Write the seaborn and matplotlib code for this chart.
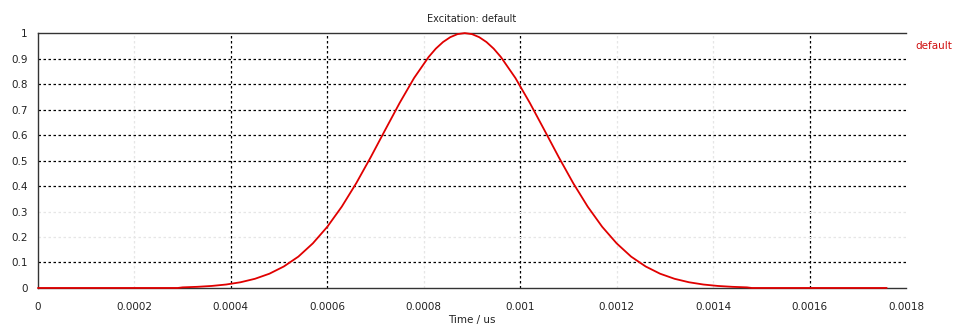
import numpy as np
import pandas as pd
import seaborn as sns
import matplotlib
matplotlib.use("Agg")
import matplotlib.pyplot as plt

# values (time in us, amplitude)
time_us = [0.0, 0.00029,
           0.00030, 0.00033, 0.00036, 0.00039, 0.00042, 0.00045, 0.00048, 0.00051,
           0.00054, 0.00057, 0.00060, 0.00063, 0.00066, 0.00069, 0.00072, 0.00075,
           0.00078, 0.00081, 0.000825, 0.00084, 0.000855, 0.00087, 0.000885, 0.00090,
           0.000915, 0.00093, 0.000945, 0.00096,
           0.00099, 0.00102, 0.00105, 0.00108, 0.00111, 0.00114, 0.00117, 0.00120,
           0.00123, 0.00126, 0.00129, 0.00132, 0.00135, 0.00138, 0.00141, 0.00144,
           0.00147, 0.00148, 0.00176]
amplitude = [0.0, 0.0,
             0.0024, 0.0045, 0.0079, 0.0135, 0.0224, 0.036, 0.056, 0.0845,
             0.123, 0.175, 0.240, 0.319, 0.411, 0.513, 0.620, 0.726,
             0.824, 0.906, 0.939, 0.965, 0.984, 0.996, 1.0, 0.996,
             0.984, 0.965, 0.939, 0.906,
             0.824, 0.726, 0.620, 0.513, 0.411, 0.319, 0.240, 0.175,
             0.123, 0.0845, 0.056, 0.036, 0.0224, 0.0135, 0.0079, 0.0045,
             0.0024, 0.0, 0.0]

x_ticks = [0, 0.0002, 0.0004, 0.0006, 0.0008, 0.001, 0.0012, 0.0014, 0.0016, 0.0018]
x_labels = ["0", "0.0002", "0.0004", "0.0006", "0.0008", "0.001", "0.0012", "0.0014", "0.0016", "0.0018"]
y_ticks = [0, 0.1, 0.2, 0.3, 0.4, 0.5, 0.6, 0.7, 0.8, 0.9, 1]
y_labels = ["0", "0.1", "0.2", "0.3", "0.4", "0.5", "0.6", "0.7", "0.8", "0.9", "1"]

df = pd.DataFrame({"Time / us": time_us, "default": amplitude})

sns.set_style("white")
plt.rcParams["font.family"] = ["DejaVu Sans"]

fig = plt.figure(figsize=(9.56, 3.31), dpi=100)
ax = fig.add_axes([0.0397, 0.130, 0.908, 0.770])

sns.lineplot(data=df, x="Time / us", y="default", ax=ax, color="#e00000", linewidth=1.3)
for ln in ax.get_lines():
    ln.set_zorder(5)
    ln.set_clip_on(False)

ax.set_xlim(0, 0.0018)
ax.set_ylim(0, 1)
ax.set_xticks(x_ticks)
ax.set_xticklabels(x_labels)
ax.set_yticks(y_ticks)
ax.set_yticklabels(y_labels)
ax.tick_params(labelsize=7.5, colors="#222222", length=4, width=0.8, direction="out")
ax.tick_params(axis="x", pad=6)

ax.grid(True, color="black", linestyle=(0, (2, 2)), linewidth=0.9)
# some grid lines are barely visible in the original
for i, gl in enumerate(ax.get_xgridlines()):
    if i in (1, 4, 6, 7):
        gl.set_color("#e6e6e6")
    if i in (0, 9):
        gl.set_visible(False)
for i, gl in enumerate(ax.get_ygridlines()):
    if i in (2, 3):
        gl.set_color("#e6e6e6")
    if i in (0, 10):
        gl.set_visible(False)

for side in ["left", "bottom", "top"]:
    ax.spines[side].set_color("#333333")
    ax.spines[side].set_linewidth(1.0)
ax.spines["right"].set_visible(False)

ax.set_title("Excitation: default", fontsize=7, color="#222222", pad=8)
ax.set_xlabel("Time / us", fontsize=7.5, color="#222222", labelpad=2)
ax.set_ylabel("")

fig.text(0.957, 0.862, "default", fontsize=7.5, color="#d01010", ha="left", va="center")

fig.savefig("out.png", dpi=100)
